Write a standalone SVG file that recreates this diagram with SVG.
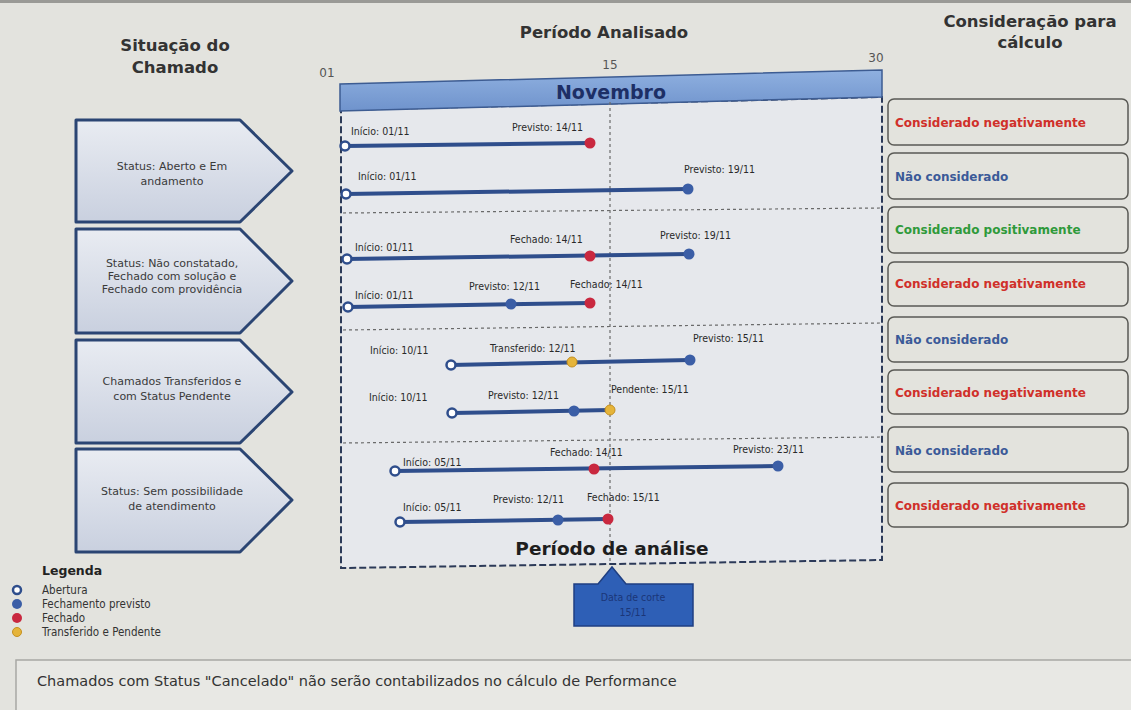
<svg xmlns="http://www.w3.org/2000/svg" width="1131" height="710" viewBox="0 0 1131 710">
<defs>
<linearGradient id="gArrow" x1="0" y1="0" x2="0" y2="1">
<stop offset="0" stop-color="#e9ecf2"/>
<stop offset="1" stop-color="#c9d0df"/>
</linearGradient>
<linearGradient id="gBar" x1="0" y1="0" x2="0" y2="1">
<stop offset="0" stop-color="#8fb0e0"/>
<stop offset="1" stop-color="#6f93cc"/>
</linearGradient>
<style>
.hdr{font-family:"DejaVu Sans",Verdana,sans-serif;font-weight:bold;font-size:16.5px;fill:#333;text-anchor:middle}
.ax{font-family:"DejaVu Sans",sans-serif;font-size:12px;fill:#555;text-anchor:middle}
.arrow{fill:url(#gArrow);stroke:#2b4573;stroke-width:3;stroke-linejoin:round}
.atx{font-family:"DejaVu Sans",Verdana,sans-serif;font-size:11px;fill:#3a3a3a;text-anchor:middle}
.lbl{font-family:"DejaVu Sans Condensed","DejaVu Sans",sans-serif;font-size:10.5px;fill:#2a2a2a}
.tl{stroke:#2f4e8c;stroke-width:4;stroke-linecap:round}
.op{fill:#fff;stroke:#2f4e8c;stroke-width:2.5}
.bl{fill:#3b5ea6}
.rd{fill:#c9283f}
.yw{fill:#e5b43a;stroke:#c59020;stroke-width:1}
.sep{stroke:#6a6a6a;stroke-width:1.2;stroke-dasharray:3 3;fill:none}
.rbox{fill:#e3e3dd;stroke:#5a5a55;stroke-width:1.5}
.rtx{font-family:"DejaVu Sans",Verdana,sans-serif;font-size:12px;font-weight:bold}
.neg{fill:#d0302a}.nc{fill:#3b5a98}.pos{fill:#2f9a3a}
.leg{font-family:"DejaVu Sans Condensed","DejaVu Sans",sans-serif;font-size:11.5px;fill:#333}
</style>
</defs>
<rect x="0" y="0" width="1131" height="710" fill="#e3e3de"/>
<rect x="0" y="0" width="1131" height="3" fill="#9a9a96"/>

<g id="headers">
<text class="hdr" x="175" y="51">Situação do</text>
<text class="hdr" x="175" y="73">Chamado</text>
<text class="hdr" x="604" y="38">Período Analisado</text>
<text class="hdr" x="1030" y="27">Consideração para</text>
<text class="hdr" x="1030" y="48">cálculo</text>
<text class="ax" x="327" y="77">01</text>
<text class="ax" x="610" y="69">15</text>
<text class="ax" x="876" y="62">30</text>
</g>

<g id="panel">
<polygon points="341,110 882,97 882,560 341,568" fill="#e6e8ec" stroke="#2c3a58" stroke-width="2" stroke-dasharray="7 3"/>
<polygon points="340,84 882,70 882,97 340,111" fill="url(#gBar)" stroke="#3d5c92" stroke-width="1.5"/>
<text x="611" y="99" font-family="DejaVu Sans,sans-serif" font-weight="bold" font-size="19px" fill="#1d2f66" text-anchor="middle">Novembro</text>
<line class="sep" x1="610" y1="102" x2="610" y2="562"/>
<line class="sep" x1="343" y1="213" x2="880" y2="208"/>
<line class="sep" x1="343" y1="330" x2="880" y2="323"/>
<line class="sep" x1="343" y1="443" x2="880" y2="437"/>
<text x="612" y="555" font-family="DejaVu Sans,sans-serif" font-weight="bold" font-size="18.5px" fill="#1e1e1e" text-anchor="middle">Período de análise</text>
</g>

<g id="status-1">
<polygon class="arrow" points="76,120 240,120 292,171 240,222 76,222"/>
<text class="atx" x="172" y="170">Status: Aberto e Em</text>
<text class="atx" x="172" y="185">andamento</text>
</g>
<g id="status-2">
<polygon class="arrow" points="76,229 240,229 292,281 240,333 76,333"/>
<text class="atx" x="172" y="267">Status: Não constatado,</text>
<text class="atx" x="172" y="280">Fechado com solução e</text>
<text class="atx" x="172" y="293">Fechado com providência</text>
</g>
<g id="status-3">
<polygon class="arrow" points="76,340 240,340 292,392 240,443 76,443"/>
<text class="atx" x="172" y="385">Chamados Transferidos e</text>
<text class="atx" x="172" y="400">com Status Pendente</text>
</g>
<g id="status-4">
<polygon class="arrow" points="76,449 240,449 292,500 240,552 76,552"/>
<text class="atx" x="172" y="495">Status: Sem possibilidade</text>
<text class="atx" x="172" y="510">de atendimento</text>
</g>

<g id="timelines">
<g id="row-1">
<line class="tl" x1="345" y1="146" x2="590" y2="143"/>
<circle class="op" cx="345" cy="146" r="4.5"/>
<circle class="rd" cx="590" cy="143" r="5.5"/>
<text class="lbl" x="351" y="135">Início: 01/11</text>
<text class="lbl" x="512" y="131">Previsto: 14/11</text>
</g>
<g id="row-2">
<line class="tl" x1="346" y1="194" x2="688" y2="189"/>
<circle class="op" cx="346" cy="194" r="4.5"/>
<circle class="bl" cx="688" cy="189" r="5.5"/>
<text class="lbl" x="358" y="180">Início: 01/11</text>
<text class="lbl" x="684" y="173">Previsto: 19/11</text>
</g>
<g id="row-3">
<line class="tl" x1="347" y1="259" x2="689" y2="254"/>
<circle class="op" cx="347" cy="259" r="4.5"/>
<circle class="rd" cx="590" cy="256" r="5.5"/>
<circle class="bl" cx="689" cy="254" r="5.5"/>
<text class="lbl" x="355" y="251">Início: 01/11</text>
<text class="lbl" x="510" y="243">Fechado: 14/11</text>
<text class="lbl" x="660" y="239">Previsto: 19/11</text>
</g>
<g id="row-4">
<line class="tl" x1="348" y1="307" x2="590" y2="303"/>
<circle class="op" cx="348" cy="307" r="4.5"/>
<circle class="bl" cx="511" cy="304" r="5.5"/>
<circle class="rd" cx="590" cy="303" r="5.5"/>
<text class="lbl" x="355" y="299">Início: 01/11</text>
<text class="lbl" x="469" y="290">Previsto: 12/11</text>
<text class="lbl" x="570" y="288">Fechado: 14/11</text>
</g>
<g id="row-5">
<line class="tl" x1="451" y1="365" x2="690" y2="360"/>
<circle class="op" cx="451" cy="365" r="4.5"/>
<circle class="yw" cx="572" cy="362" r="5"/>
<circle class="bl" cx="690" cy="360" r="5.5"/>
<text class="lbl" x="370" y="354">Início: 10/11</text>
<text class="lbl" x="490" y="352">Transferido: 12/11</text>
<text class="lbl" x="693" y="342">Previsto: 15/11</text>
</g>
<g id="row-6">
<line class="tl" x1="452" y1="413" x2="610" y2="410"/>
<circle class="op" cx="452" cy="413" r="4.5"/>
<circle class="bl" cx="574" cy="411" r="5.5"/>
<circle class="yw" cx="610" cy="410" r="5"/>
<text class="lbl" x="369" y="401">Início: 10/11</text>
<text class="lbl" x="488" y="399">Previsto: 12/11</text>
<text class="lbl" x="611" y="393">Pendente: 15/11</text>
</g>
<g id="row-7">
<line class="tl" x1="395" y1="471" x2="778" y2="466"/>
<circle class="op" cx="395" cy="471" r="4.5"/>
<circle class="rd" cx="594" cy="469" r="5.5"/>
<circle class="bl" cx="778" cy="466" r="5.5"/>
<text class="lbl" x="403" y="466">Início: 05/11</text>
<text class="lbl" x="550" y="456">Fechado: 14/11</text>
<text class="lbl" x="733" y="453">Previsto: 23/11</text>
</g>
<g id="row-8">
<line class="tl" x1="400" y1="522" x2="608" y2="519"/>
<circle class="op" cx="400" cy="522" r="4.5"/>
<circle class="bl" cx="558" cy="520" r="5.5"/>
<circle class="rd" cx="608" cy="519" r="5.5"/>
<text class="lbl" x="403" y="511">Início: 05/11</text>
<text class="lbl" x="493" y="503">Previsto: 12/11</text>
<text class="lbl" x="587" y="501">Fechado: 15/11</text>
</g>
</g>

<g id="cutoff">
<path d="M574,584 L598,584 L612,567 L626,584 L693,584 L693,626 L574,626 Z" fill="#2e5fb6" stroke="#1f3f82" stroke-width="1.5"/>
<text x="633" y="601" font-family="DejaVu Sans Condensed,DejaVu Sans,sans-serif" font-size="10.5px" fill="#1b3678" text-anchor="middle">Data de corte</text>
<text x="633" y="616" font-family="DejaVu Sans Condensed,DejaVu Sans,sans-serif" font-size="10.5px" fill="#1b3678" text-anchor="middle">15/11</text>
</g>

<g id="consideration">
<g id="c-1"><rect class="rbox" x="888" y="99" width="240" height="46" rx="6"/><text class="rtx neg" x="895" y="127">Considerado negativamente</text></g>
<g id="c-2"><rect class="rbox" x="888" y="153" width="240" height="46" rx="6"/><text class="rtx nc" x="895" y="181">Não considerado</text></g>
<g id="c-3"><rect class="rbox" x="888" y="207" width="240" height="46" rx="6"/><text class="rtx pos" x="895" y="234">Considerado positivamente</text></g>
<g id="c-4"><rect class="rbox" x="888" y="262" width="240" height="44" rx="6"/><text class="rtx neg" x="895" y="288">Considerado negativamente</text></g>
<g id="c-5"><rect class="rbox" x="888" y="317" width="240" height="45" rx="6"/><text class="rtx nc" x="895" y="344">Não considerado</text></g>
<g id="c-6"><rect class="rbox" x="888" y="370" width="240" height="44" rx="6"/><text class="rtx neg" x="895" y="397">Considerado negativamente</text></g>
<g id="c-7"><rect class="rbox" x="888" y="427" width="240" height="45" rx="6"/><text class="rtx nc" x="895" y="455">Não considerado</text></g>
<g id="c-8"><rect class="rbox" x="888" y="483" width="240" height="44" rx="6"/><text class="rtx neg" x="895" y="510">Considerado negativamente</text></g>
</g>

<g id="legend">
<text x="42" y="575" font-family="DejaVu Sans,sans-serif" font-weight="bold" font-size="12.5px" fill="#222">Legenda</text>
<circle class="op" cx="17" cy="590" r="4"/>
<text class="leg" x="42" y="594">Abertura</text>
<circle class="bl" cx="17" cy="604" r="5"/>
<text class="leg" x="42" y="608">Fechamento previsto</text>
<circle class="rd" cx="17" cy="618" r="5"/>
<text class="leg" x="42" y="622">Fechado</text>
<circle class="yw" cx="17" cy="632" r="4.5"/>
<text class="leg" x="42" y="636">Transferido e Pendente</text>
</g>

<g id="note">
<rect x="16" y="660" width="1122" height="60" fill="#e8e8e4" stroke="#a8a8a4" stroke-width="1.5"/>
<text x="37" y="686" font-family="DejaVu Sans,sans-serif" font-size="14.5px" fill="#333">Chamados com Status "Cancelado" não serão contabilizados no cálculo de Performance</text>
</g>
</svg>
